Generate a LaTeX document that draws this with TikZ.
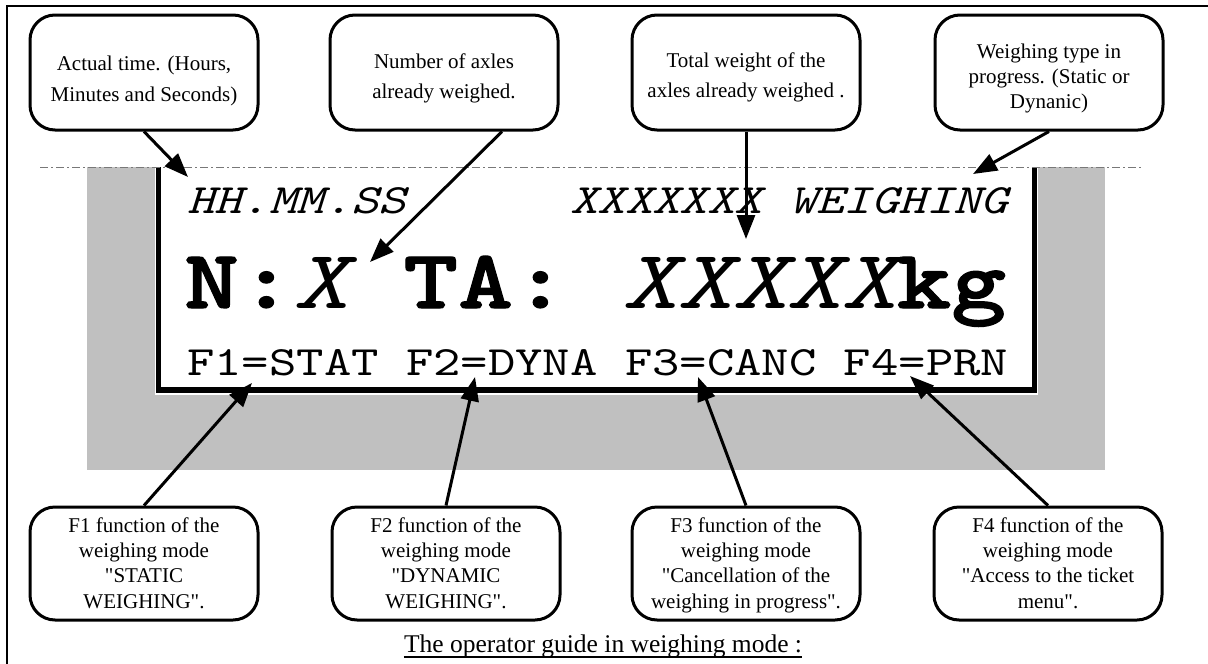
\documentclass[tikz,border=0pt]{standalone}
\usepackage{fontspec}
\setmainfont{Liberation Serif}
\newfontfamily\lcd{lmmono10-regular.otf}[FakeStretch=1.25, ItalicFont=lmmono10-italic.otf, BoldFont=lmmonolt10-bold.otf, BoldItalicFont=lmmonolt10-boldoblique.otf, BoldFeatures={FakeBold=1.5}]
\usetikzlibrary{arrows.meta}
\definecolor{silverbg}{RGB}{192,192,192}
\definecolor{dashgray}{RGB}{120,120,120}
\newcommand{\qd}{\textquotedbl}
\tikzset{
  callout/.style={draw, line width=3pt, rounded corners=25pt, minimum width=228pt, inner sep=0pt},
  ctext/.style={align=center, inner sep=0pt, anchor=base},
  ptr/.style={line width=3pt, -{Triangle[length=24pt,width=18pt]}},
  lcdrow/.style={inner sep=0pt, anchor=base west, font=\lcd\fontsize{41.7}{48}\selectfont},
  lcdbig/.style={inner sep=0pt, anchor=base west, font=\lcd\fontsize{83.5}{90}\selectfont},
}
\begin{document}
\begin{tikzpicture}[x=1pt, y=-1pt]
\useasboundingbox (0,0) rectangle (1208,664);
% outer frame
\draw[line width=2pt] (7,664) -- (7,6) -- (1208,6);
% display background
\fill[silverbg] (87,167) rectangle (1105,470);
\fill[white] (155,167) rectangle (1038,395);
\draw[line width=5.5pt, line join=miter] (158.5,167) -- (158.5,390) -- (1034.5,390) -- (1034.5,167);
\draw[dashgray, line width=1pt, dash pattern=on 8pt off 3pt on 2pt off 3pt] (40,167) -- (1143,167);
% display text
\node[lcdrow] (r1) at (187,213) {\itshape HH.MM.SS\ \ \ \ \ \ XXXXXXX\ WEIGHING};
\node[lcdbig] (r2) at (184,308) {\bfseries N:\mdseries\itshape X\ \upshape\bfseries TA:\ \mdseries\itshape XXXXX\upshape\bfseries kg};
\node[lcdrow] (r3) at (187,375) {F1=STAT\ F2=DYNA\ F3=CANC\ F4=PRN};
% top callouts
\node[callout, minimum height=115pt] (b1) at (144,72.5) {};
\node[callout, minimum height=115pt] (b2) at (444,72.5) {};
\node[callout, minimum height=115pt] (b3) at (746,72.5) {};
\node[callout, minimum height=115pt] (b4) at (1049,72.5) {};
\node[ctext, font=\fontsize{21}{31}\selectfont] (t1) at (144,101) {Actual time. (Hours,\\Minutes and Seconds)};
\node[ctext, font=\fontsize{21}{30}\selectfont] (t2) at (444,98) {Number of axles\\already weighed.};
\node[ctext, font=\fontsize{21}{30}\selectfont] (t3) at (746,97) {Total weight of the\\axles already weighed .};
\node[ctext, font=\fontsize{21}{25}\selectfont] (t4) at (1049,108) {Weighing type in\\progress. (Static or\\Dynanic)};
% bottom callouts
\node[callout, minimum height=113pt] (f1) at (144,563.5) {};
\node[callout, minimum height=113pt] (f2) at (446,563.5) {};
\node[callout, minimum height=113pt] (f3) at (746,563.5) {};
\node[callout, minimum height=113pt] (f4) at (1048,563.5) {};
\node[ctext, font=\fontsize{21}{25.3}\selectfont] (u1) at (144,608) {F1 function of the\\weighing mode\\\qd STATIC\\WEIGHING\qd.};
\node[ctext, font=\fontsize{21}{25.3}\selectfont] (u2) at (446,608) {F2 function of the\\weighing mode\\\qd DYNAMIC\\WEIGHING\qd.};
\node[ctext, font=\fontsize{21}{25.3}\selectfont] (u3) at (746,608) {F3 function of the\\weighing mode\\\qd Cancellation of the\\weighing in progress\qd.};
\node[ctext, font=\fontsize{21}{25.3}\selectfont] (u4) at (1048,608) {F4 function of the\\weighing mode\\\qd Access to the ticket\\menu\qd.};
% pointer targets
\coordinate (p1) at (188,177);
\coordinate (p2) at (370,262);
\coordinate (p3) at (746,239);
\coordinate (p4) at (973,174);
\coordinate (q1) at (252,383);
\coordinate (q2) at (475,377);
\coordinate (q3) at (698,377);
\coordinate (q4) at (910,376);
\draw[ptr] (b1.south) -- (p1);
\draw[ptr] ([xshift=58pt]b2.south) -- (p2);
\draw[ptr] (b3.south) -- (p3);
\draw[ptr] (b4.south) -- (p4);
\draw[ptr] (f1.north) -- (q1);
\draw[ptr] (f2.north) -- (q2);
\draw[ptr] (f3.north) -- (q3);
\draw[ptr] (f4.north) -- (q4);
% caption
\node[inner sep=0pt, anchor=base, font=\fontsize{25.5}{30}\selectfont] (cap) at (603,652) {The operator guide in weighing mode :};
\draw[line width=1.5pt] ([yshift=-5pt]cap.base west) -- ([yshift=-5pt]cap.base east);
\end{tikzpicture}
\end{document}
